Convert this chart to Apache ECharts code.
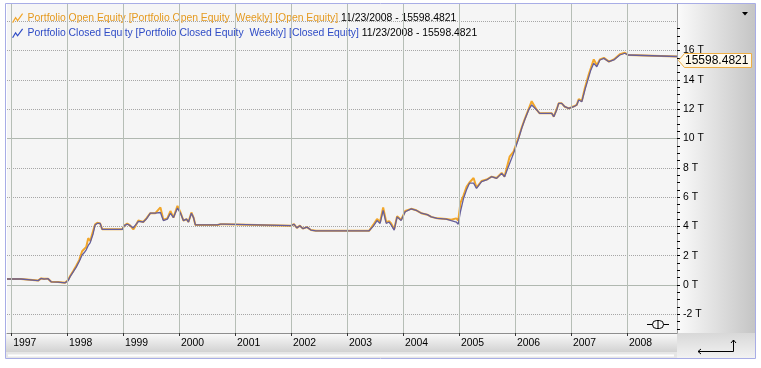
<!DOCTYPE html>
<html><head><meta charset="utf-8">
<script src="https://cdn.jsdelivr.net/npm/echarts@6/dist/echarts.min.js"></script>
<style>html,body{margin:0;padding:0;background:#fff}#c{width:761px;height:368px}</style>
</head><body><div id="c"></div>
<script>
const dates = [
'1996-12-05','1997-03-06','1997-03-19','1997-06-26','1997-07-15','1997-08-04','1997-08-30','1997-09-19','1997-11-03','1997-12-19',
'1998-01-08','1998-01-21','1998-02-10','1998-03-01','1998-03-21','1998-04-09','1998-04-22','1998-05-06','1998-05-19','1998-06-01',
'1998-06-20','1998-07-03','1998-07-17','1998-08-05','1998-08-18','1998-12-27','1999-01-09','1999-01-29','1999-02-17','1999-03-09',
'1999-03-22','1999-04-11','1999-05-13','1999-06-02','1999-06-28','1999-07-31','1999-09-02','1999-09-21','1999-10-17','1999-11-06',
'1999-11-26','1999-12-22','2000-01-11','2000-01-30','2000-02-19','2000-03-03','2000-03-22','2000-04-05','2000-04-17','2000-09-08',
'2000-09-28','2000-10-24','2000-11-06','2002-01-01','2002-01-20','2002-02-08','2002-02-28','2002-03-19','2002-04-15','2002-05-11',
'2002-06-12','2003-05-25','2003-06-21','2003-07-16','2003-08-05','2003-08-25','2003-09-14','2003-10-03','2003-10-16','2003-11-05',
'2003-11-24','2003-12-20','2004-01-16','2004-02-24','2004-03-28','2004-04-30','2004-06-08','2004-07-04','2004-08-12','2004-10-10',
'2004-11-11','2004-12-14','2004-12-27','2005-01-10','2005-01-30','2005-02-19','2005-03-10','2005-04-06','2005-04-25','2005-05-28',
'2005-06-30','2005-08-01','2005-09-03','2005-10-06','2005-10-25','2005-11-27','2005-12-23','2006-01-25','2006-02-14','2006-03-05',
'2006-03-31','2006-04-20','2006-05-23','2006-06-11','2006-08-29','2006-09-11','2006-09-30','2006-10-13','2006-11-02','2006-11-22',
'2006-12-18','2007-01-20','2007-02-08','2007-02-21','2007-03-13','2007-04-02','2007-04-28','2007-05-11','2007-05-30','2007-06-19',
'2007-07-09','2007-08-04','2007-09-06','2007-10-08','2007-11-16','2007-12-19','2008-01-08','2008-01-21','2008-11-23'
];
const closedEquity = [
410,410,300,300,450,400,430,220,200,150,
300,570,900,1200,1600,2050,2200,2400,2700,2900,
3500,4100,4200,4200,3800,3800,4050,4150,4050,3900,
4000,4350,4300,4500,4900,4900,4950,4400,4500,4900,
4600,5250,4900,4400,4500,4300,4900,4600,4100,4100,
4150,4150,4050,4050,4150,3900,4050,3850,3950,3750,
3700,3700,4000,4400,4200,5100,4200,4300,4100,3750,
4650,4400,5000,5200,5100,4900,4800,4650,4550,4500,
4400,4300,4150,5000,5900,6500,6950,6950,6600,7050,
7170,7390,7280,7620,7390,8300,9000,10000,10700,11260,
11950,12290,11950,11720,11720,11490,11950,12400,12400,12170,
12060,12170,12290,12630,12510,13310,14220,14680,15130,14900,
15360,15470,15240,15360,15700,15820,15700,15598.4821,15598.4821
];
const openEquity = [
410,410,300,300,450,420,430,220,200,150,
350,620,950,1300,1700,2300,2300,2600,3200,3000,
3700,4150,4250,4200,3800,3800,4050,4200,4050,3800,
4000,4400,4300,4550,4900,4900,5300,4450,4550,5050,
4600,5400,4950,4400,4500,4300,4950,4600,4100,4100,
4150,4150,4050,4050,4150,3900,4050,3850,3950,3750,
3700,3700,4100,4500,4300,5300,4300,4350,4200,3800,
4700,4450,5050,5200,5100,4900,4800,4650,4550,4500,
4450,4550,4400,5600,6100,6700,7000,7300,6650,7100,
7200,7400,7300,7650,7400,8760,9100,10100,10750,11300,
12000,12550,11950,11720,11720,11490,12000,12400,12400,12170,
12060,12200,12300,12700,12550,13450,14400,14800,15400,15000,
15400,15500,15250,15400,15750,15850,15700,15598.4821,15598.4821
];
const yearTicks = [1997,1998,1999,2000,2001,2002,2003,2004,2005,2006,2007,2008];
const valueLabels = [-2000,0,2000,4000,6000,8000,10000,12000,14000,16000];
const valueTickMarks = [-3000,-2500,-2000,-1500,-1000,-500,0,500,1000,1500,2000,2500,3000,3500,4000,4500,5000,5500,6000,6500,7000,7500,8000,8500,9000,9500,10000,10500,11000,11500,12000,12500,13000,13500,14000,14500,15000,15500,16000,16500,17000,17500];
const dottedGridValues = [-2000,2000,4000,6000,8000,12000,14000,16000,18000];
const solidGridValues = [0,10000];
const openName = 'Portfolio Open Equity [Portfolio Open Equity  Weekly] [Open Equity]';
const closedName = 'Portfolio Closed Equity [Portfolio Closed Equity  Weekly] [Closed Equity]';
const lastDateLabel = '11/23/2008';

const FONT = 'Liberation Sans';
const yearTs = yearTicks.map(y => new Date(y, 0, 1).getTime());
const toTs = s => { const p = s.split('-').map(Number); return new Date(p[0], p[1]-1, p[2]).getTime(); };
const xMin = toTs(dates[0]);
const xMax = toTs(dates[dates.length-1]);
const yMin = -3276, yMax = 19181;
const lastVal = closedEquity[closedEquity.length-1];
const ORANGE = '#f2a629', BLUE = '#2f4cc6';

const chart = echarts.init(document.getElementById('c'), null, {renderer:'canvas'});
const hiddenAxis = (vals, lineStyle) => ({
  type:'value', position:'right', min:yMin, max:yMax, z:3,
  axisLine:{show:false}, axisLabel:{show:false},
  axisTick:{show:false, customValues: vals},
  splitLine:{show:true, lineStyle: lineStyle}
});
chart.setOption({
  animation:false,
  backgroundColor:'#ffffff',
  grid:{left:7, right:84, top:4, bottom:35, show:true, backgroundColor:'#f5f5f5', borderWidth:0},
  legend:{
    orient:'vertical', left:7, top:8, itemWidth:10, itemHeight:9, itemGap:5,
    icon:'path://M0,9L3,4L5,7L10,0',
    data:[
      {name:openName, itemStyle:{color:'rgba(0,0,0,0)', borderColor:ORANGE, borderWidth:1.2}},
      {name:closedName, itemStyle:{color:'rgba(0,0,0,0)', borderColor:BLUE, borderWidth:1.2}}
    ],
    formatter: n => '{' + (n === openName ? 'o' : 'c') + '|' + n + '} {d|' + lastDateLabel + ' - ' + lastVal.toFixed(4) + '}',
    textStyle:{fontSize:10.4, fontFamily:FONT, rich:{
      o:{color:'#e59a1f', fontSize:10.4, fontFamily:FONT},
      c:{color:BLUE, fontSize:10.4, fontFamily:FONT},
      d:{color:'#000', fontSize:10.4, fontFamily:FONT}
    }}
  },
  xAxis:{
    type:'value', min:xMin, max:xMax, z:10,
    axisLine:{show:true, onZero:false, lineStyle:{color:'#8e8e8e', width:1}},
    axisTick:{show:true, customValues:yearTs, length:3, lineStyle:{color:'#333'}},
    axisLabel:{customValues:yearTs, formatter: v => String(new Date(v).getFullYear()),
      align:'left', padding:[0,0,0,2], margin:5, fontSize:10.4, fontFamily:FONT, color:'#000'},
    splitLine:{show:true, lineStyle:{color:'#b6beb6', width:1}}
  },
  yAxis:[
    {type:'value', position:'right', min:yMin, max:yMax, z:10,
     axisLine:{show:true, lineStyle:{color:'#a0a0a0'}},
     axisTick:{show:true, customValues:valueTickMarks, length:3, lineStyle:{color:'#000'}},
     axisLabel:{customValues:valueLabels, formatter: v => (v/1000) + ' T', margin:6,
       fontSize:10.4, fontFamily:FONT, color:'#000'},
     splitLine:{show:false}},
    hiddenAxis(dottedGridValues, {color:'#a6a6a6', type:'dotted', width:1}),
    hiddenAxis(solidGridValues, {color:'#b0b8b0', width:1})
  ],
  series:[
    {type:'line', name:openName, yAxisIndex:0, showSymbol:false, z:5,
     data: dates.map((d,i) => [toTs(d), openEquity[i]]),
     lineStyle:{color:ORANGE, width:2}, itemStyle:{color:ORANGE}},
    {type:'line', name:closedName, yAxisIndex:0, showSymbol:false, z:6,
     data: dates.map((d,i) => [toTs(d), closedEquity[i]]),
     lineStyle:{color:'#655f9c', width:1.3}, itemStyle:{color:BLUE}}
  ],
  graphic:{elements:[
    {id:'rpanel', type:'rect', silent:true, z:1, shape:{x:677,y:4,width:79,height:329},
     style:{fill:new echarts.graphic.LinearGradient(0,0,1,0,[{offset:0,color:'#fbfbfb'},{offset:1,color:'#c4c4c4'}])}},
    {id:'band', type:'rect', silent:true, z:1, shape:{x:6,y:333,width:671,height:19},
     style:{fill:new echarts.graphic.LinearGradient(0,0,0,1,[{offset:0,color:'#fafafa'},{offset:1,color:'#d2d2d2'}])}},
    {id:'scroll', type:'rect', silent:true, z:1, shape:{x:6,y:352,width:671,height:6},
     style:{fill:'#e6e6e6'}},
    {id:'scrollhl', type:'line', silent:true, z:2, shape:{x1:8,y1:355.5,x2:674,y2:355.5}, style:{stroke:'#ffffff', lineWidth:2}},
    {id:'corner', type:'rect', silent:true, z:1, shape:{x:677,y:333,width:79,height:25},
     style:{fill:new echarts.graphic.LinearGradient(0,0,0,1,[{offset:0,color:'#d8d8d8'},{offset:1,color:'#f2f2f2'}])}},
    {id:'arr1', type:'polyline', silent:true, z:3, shape:{points:[[698,351.5],[733.5,351.5],[733.5,340]]}, style:{stroke:'#000', lineWidth:1, fill:null}},
    {id:'arr2', type:'polyline', silent:true, z:3, shape:{points:[[701,349],[698,351.5],[701,354]]}, style:{stroke:'#000', lineWidth:1, fill:null}},
    {id:'arr3', type:'polyline', silent:true, z:3, shape:{points:[[731,343],[733.5,340],[736,343]]}, style:{stroke:'#000', lineWidth:1, fill:null}},
    {id:'tri', type:'polygon', silent:true, z:3, shape:{points:[[742,12],[748,12],[745,15.5]]}, style:{fill:'#000'}},
    {id:'ico1', type:'line', silent:true, z:20, shape:{x1:647,y1:324.5,x2:669,y2:324.5}, style:{stroke:'#000', lineWidth:1}},
    {id:'ico2', type:'rect', silent:true, z:21, shape:{x:652.5,y:320.5,width:11,height:8,r:4}, style:{fill:'#f8f8f8', stroke:'#000', lineWidth:1}},
    {id:'ico3', type:'line', silent:true, z:22, shape:{x1:658,y1:320.5,x2:658,y2:328.5}, style:{stroke:'#000', lineWidth:1}},
    {id:'frame', type:'rect', silent:true, z:50, shape:{x:5.5,y:3.5,width:750,height:355}, style:{fill:null, stroke:'#a8ade6', lineWidth:1}}
  ]}
});
// last-value callout on the right axis, positioned from the axis scale
const lastPt = chart.convertToPixel({xAxisIndex:0, yAxisIndex:0}, [xMax, lastVal]);
const cy = Math.round(lastPt[1]) + 4.5;
chart.setOption({graphic:{elements:[
  {id:'callout', type:'polygon', silent:true, z:40, shape:{points:[[678.5,cy],[684.5,cy-7],[751.5,cy-7],[751.5,cy+7],[684.5,cy+7]]},
   style:{fill:new echarts.graphic.LinearGradient(0,0,0,1,[{offset:0,color:'#fffef8'},{offset:1,color:'#fbf3df'}]), stroke:'#eeae45', lineWidth:1}},
  {id:'calloutText', type:'text', silent:true, z:41, x:685, y:cy, style:{text:lastVal.toFixed(4), fill:'#000', font:'12px "Liberation Sans"', verticalAlign:'middle', align:'left'}}
]}});
</script></body></html>
